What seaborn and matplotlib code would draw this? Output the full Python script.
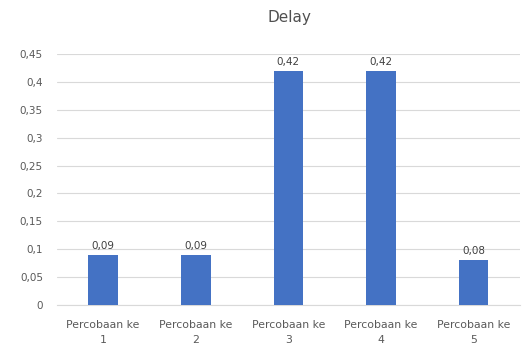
import matplotlib
matplotlib.use("Agg")
import matplotlib.pyplot as plt
import seaborn as sns
import pandas as pd
from matplotlib.ticker import FuncFormatter, MultipleLocator

categories = ["Percobaan ke\n1", "Percobaan ke\n2", "Percobaan ke\n3",
              "Percobaan ke\n4", "Percobaan ke\n5"]
delay = [0.09, 0.09, 0.42, 0.42, 0.08]

df = pd.DataFrame({"cat": categories, "delay": delay})

sns.set_theme(style="white")
plt.rcParams["font.family"] = ["DejaVu Sans"]

fig = plt.figure(figsize=(5.31, 3.53), dpi=100)
ax = fig.add_axes([0.107, 0.136, 0.872, 0.711])

sns.barplot(data=df, x="cat", y="delay", color="#4472C4", saturation=1,
            width=0.32, linewidth=0, ax=ax, zorder=3)

ax.set_ylim(0, 0.45)
ax.set_xlim(-0.5, 4.5)
ax.yaxis.set_major_locator(MultipleLocator(0.05))

def comma_fmt(v, pos):
    s = f"{v:.2f}".rstrip("0").rstrip(".")
    return s.replace(".", ",")

ax.yaxis.set_major_formatter(FuncFormatter(comma_fmt))
ax.grid(axis="y", color="#d9d9d9", linewidth=0.8, zorder=0)
for s in ["top", "right", "left"]:
    ax.spines[s].set_visible(False)
ax.spines["bottom"].set_color("#d9d9d9")
ax.spines["bottom"].set_linewidth(0.8)

ax.tick_params(axis="y", length=0, pad=10, labelsize=7.5, labelcolor="#595959")
ax.tick_params(axis="x", length=0, pad=11, labelsize=7.8, labelcolor="#595959")
for lbl in ax.get_xticklabels():
    lbl.set_linespacing(1.6)
ax.set_xlabel("")
ax.set_ylabel("")

for c in ax.containers:
    ax.bar_label(c, labels=[f"{v:.2f}".replace(".", ",") for v in delay],
                 padding=3, fontsize=7.5, color="#404040")

fig.text(0.546, 0.95, "Delay", ha="center", va="center", fontsize=11,
         color="#505050")

fig.savefig("out.png", dpi=100)
